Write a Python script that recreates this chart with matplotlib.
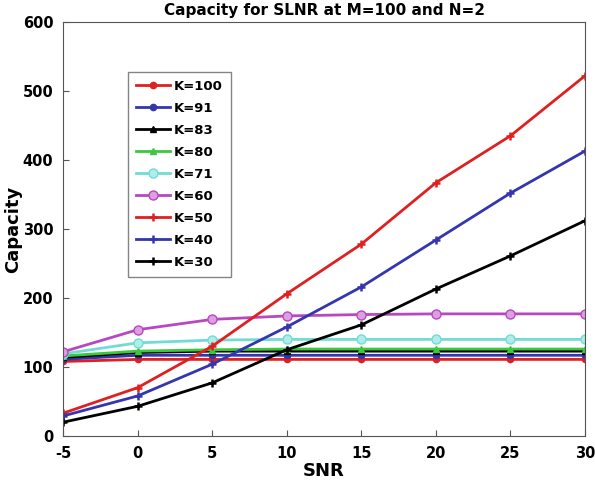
import matplotlib
matplotlib.use('Agg')
import matplotlib.pyplot as plt

plt.rcParams['axes.unicode_minus'] = False

snr = [-5, 0, 5, 10, 15, 20, 25, 30]

# capacity per user count K
k100 = [108, 111, 111, 111, 111, 111, 111, 111]
k91 = [111, 117, 117, 117, 117, 117, 117, 117]
k83 = [114, 121, 123, 123, 123, 123, 123, 123]
k80 = [116, 123, 125, 126, 126, 126, 126, 126]
k71 = [119, 135, 139, 140, 140, 140, 140, 140]
k60 = [122, 154, 169, 174, 176, 177, 177, 177]
k50 = [33, 70, 130, 206, 278, 367, 435, 522]
k40 = [29, 58, 104, 158, 216, 284, 352, 413]
k30 = [20, 43, 77, 125, 161, 213, 261, 312]

red = '#e02020'
blue = '#3535b0'
black = '#000000'
green = '#3cc83c'
cyan = '#70dcd4'
magenta = '#b848c0'

fig = plt.figure(figsize=(5.95, 4.86), dpi=100)
ax = fig.add_axes([63 / 595, 50 / 486, 522 / 595, 414 / 486])

ax.plot(snr, k100, color=red, lw=2, marker='o', ms=4.5, label='K=100')
ax.plot(snr, k91, color=blue, lw=2, marker='o', ms=4.5, label='K=91')
ax.plot(snr, k83, color=black, lw=2, marker='^', ms=5, label='K=83')
ax.plot(snr, k80, color=green, lw=2, marker='^', ms=5, label='K=80')
ax.plot(snr, k71, color=cyan, lw=2, marker='o', ms=6.5, mfc='#b0ece8', label='K=71')
ax.plot(snr, k60, color=magenta, lw=2, marker='o', ms=6.5, mfc='#dca0e0', label='K=60')
ax.plot(snr, k50, color=red, lw=2, marker='+', ms=6, mew=1.8, label='K=50')
ax.plot(snr, k40, color=blue, lw=2, marker='+', ms=6, mew=1.8, label='K=40')
ax.plot(snr, k30, color=black, lw=2, marker='+', ms=6, mew=1.8, label='K=30')

ax.set_xlim(-5, 30)
ax.set_ylim(0, 600)
ax.set_xticks(snr)
ax.set_yticks(range(0, 601, 100))
for lab in ax.get_xticklabels() + ax.get_yticklabels():
    lab.set_fontweight('bold')
    lab.set_fontsize(10.5)
ax.tick_params(direction='in', length=4, color='#555555', pad=7)
for s in ax.spines.values():
    s.set_color('#555555')

ax.set_xlabel('SNR', fontsize=13, fontweight='bold', labelpad=1)
ax.set_ylabel('Capacity', fontsize=13, fontweight='bold', labelpad=0)
ax.set_title('Capacity for SLNR at M=100 and N=2', fontsize=11, fontweight='bold', pad=5)

leg = ax.legend(loc='upper left', bbox_to_anchor=(0.112, 0.895), fancybox=False,
                edgecolor='#666666', prop={'weight': 'bold', 'size': 9.5},
                handlelength=2.6, labelspacing=0.68, borderpad=0.6, handletextpad=0.3)
leg.get_frame().set_linewidth(1)

fig.savefig('out.png', dpi=100)
